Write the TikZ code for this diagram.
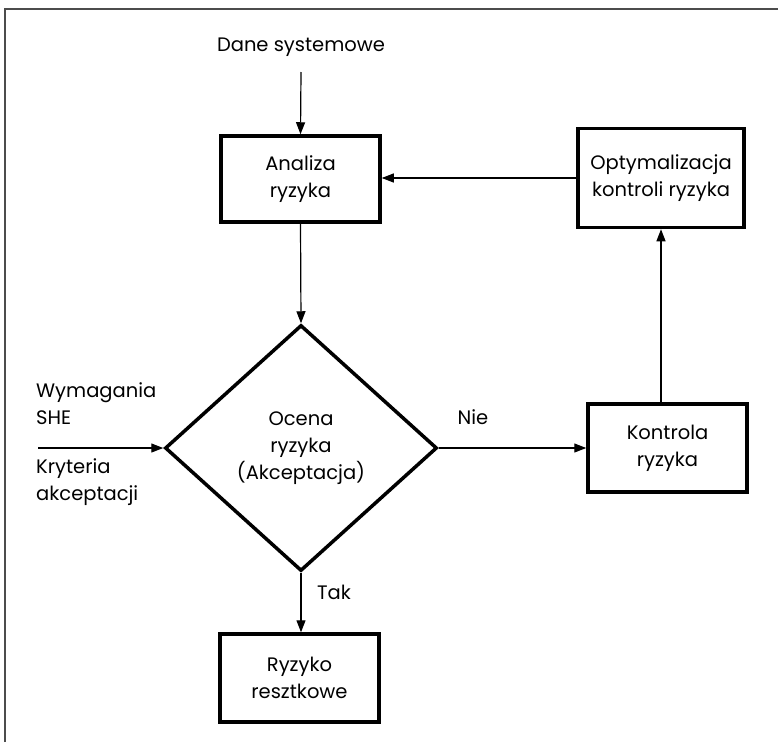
\documentclass[tikz,border=0pt]{standalone}
\usepackage{fontspec}
\setmainfont{Poppins}
\usetikzlibrary{shapes.geometric,arrows.meta}
\begin{document}
\begin{tikzpicture}[x=1pt,y=-1pt,
  every node/.style={font=\fontsize{19.5}{27}\selectfont},
  box/.style={draw,line width=3.5pt,minimum width=#1,align=center,inner sep=0pt},
  dec/.style={draw,diamond,line width=3.5pt,minimum width=272pt,minimum height=246pt,inner sep=0pt,align=center},
  arr/.style={line width=1.2pt,-{Triangle[length=12pt,width=9pt]}},
  lbl/.style={inner sep=0pt}]
\useasboundingbox (0,0) rectangle (778,742);
\draw[line width=2pt,black!70] (5,742) -- (5,9) -- (778,9);
\node[lbl] (dane) at (301,47) {Dane systemowe};
\coordinate (danebot) at (301,72);
\node[box=159pt,minimum height=86pt] (anal) at (300.5,179) {Analiza\\ryzyka};
\node[box=166pt,minimum height=99pt] (opt) at (661,178) {Optymalizacja\\kontroli ryzyka};
\node[dec] (ocena) at (301,448) {Ocena\\ryzyka\\(Akceptacja)};
\node[box=159pt,minimum height=88pt] (kontr) at (667.5,448) {Kontrola\\ryzyka};
\node[box=159pt,minimum height=88pt] (resz) at (299.5,678) {Ryzyko\\resztkowe};
\node[lbl,align=left,anchor=west] (wym) at (36,404) {Wymagania\\SHE};
\node[lbl,align=left,anchor=west] (kryt) at (36,482) {Kryteria\\akceptacji};
\coordinate (inp) at (38,448);
\node[lbl] (nie) at (473,417) {Nie};
\node[lbl] (tak) at (334,592) {Tak};
\draw[arr] (danebot) -- (anal.north);
\draw[arr] (opt.west) -- (opt.west -| anal.east);
\draw[arr] (anal.south) -- (ocena.north);
\draw[arr] (inp) -- (ocena.west);
\draw[arr] (ocena.east) -- (kontr.west);
\draw[arr] (kontr.north -| opt.south) -- (opt.south);
\draw[arr] (ocena.south) -- (resz.north -| ocena.south);
\end{tikzpicture}
\end{document}
